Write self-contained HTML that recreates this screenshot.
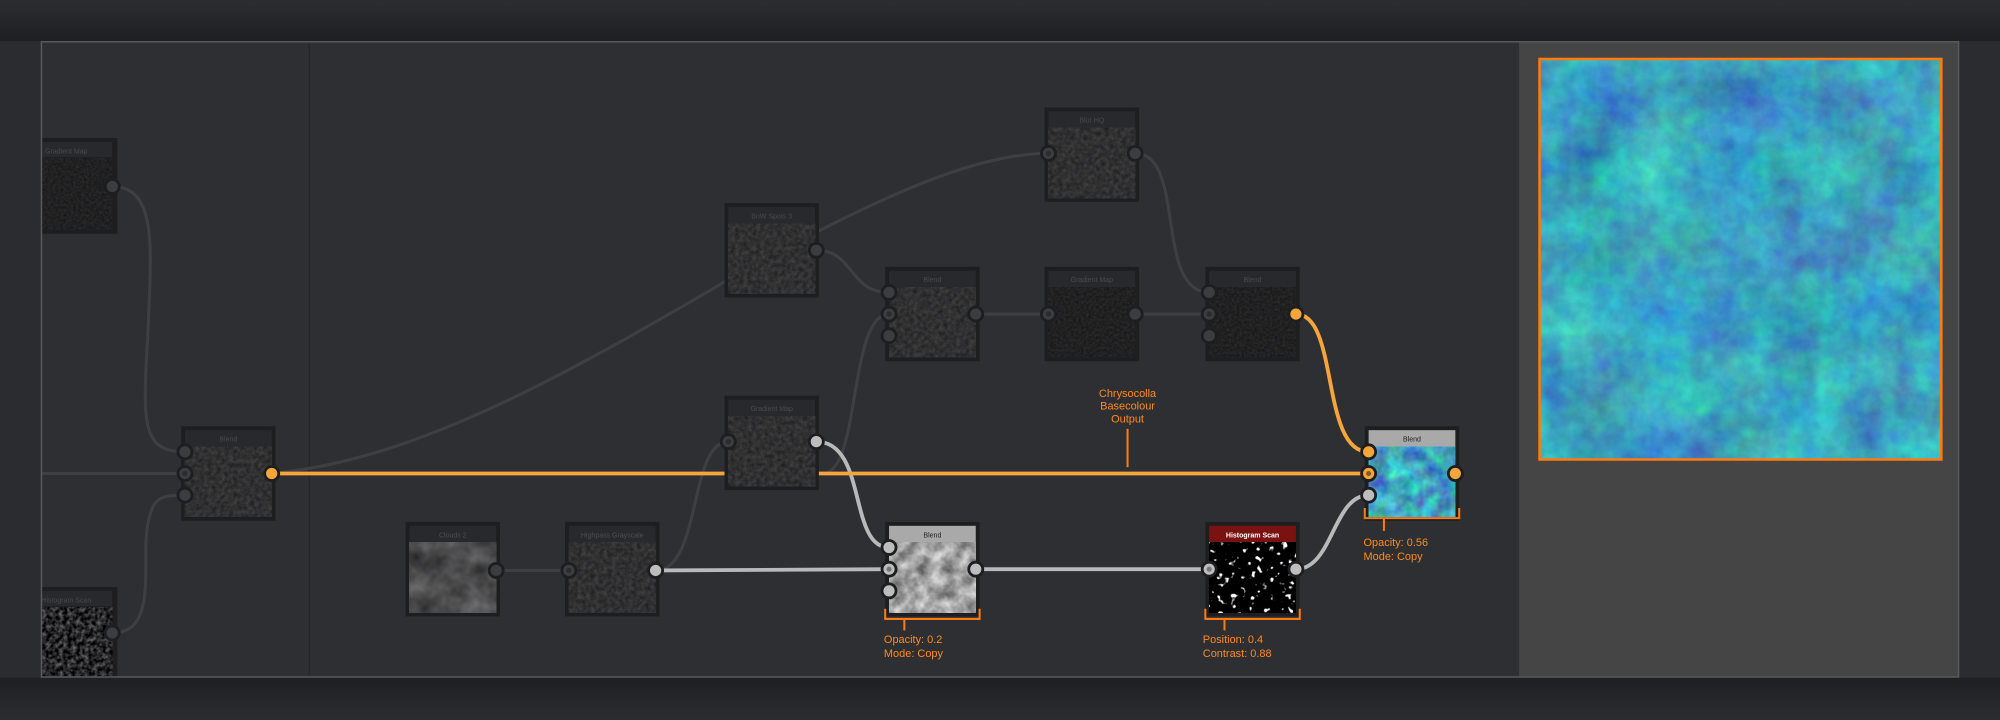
<!DOCTYPE html>
<html><head><meta charset="utf-8"><style>
html,body{margin:0;padding:0;background:#2b2c30;}
svg{display:block;}
text{font-family:"Liberation Sans",sans-serif;}
</style></head><body>
<svg width="2000" height="720" viewBox="0 0 1568 564" xmlns="http://www.w3.org/2000/svg">
<defs>
<linearGradient id="bgTop" x1="0" y1="0" x2="0" y2="1">
<stop offset="0" stop-color="#2c2d31"/><stop offset="1" stop-color="#1e1f21"/></linearGradient>
<linearGradient id="bgBot" x1="0" y1="0" x2="0" y2="1">
<stop offset="0" stop-color="#1e1f21"/><stop offset="1" stop-color="#2c2d31"/></linearGradient>
<clipPath id="frameClip"><rect x="33" y="33" width="1502" height="497"/></clipPath>
<filter id="dim" x="0" y="0" width="1" height="1" color-interpolation-filters="sRGB"><feTurbulence type="fractalNoise" baseFrequency="0.3" numOctaves="3" seed="2"/>
<feColorMatrix type="matrix" values="0.18 0 0 0 0.1  0.18 0 0 0 0.1  0.18 0 0 0 0.105  0 0 0 0 1"/></filter>
<filter id="dark" x="0" y="0" width="1" height="1" color-interpolation-filters="sRGB"><feTurbulence type="fractalNoise" baseFrequency="0.5" numOctaves="2" seed="5"/>
<feColorMatrix type="matrix" values="0.12 0 0 0 0.07  0.12 0 0 0 0.07  0.12 0 0 0 0.075  0 0 0 0 1"/></filter>
<filter id="light" x="0" y="0" width="1" height="1" color-interpolation-filters="sRGB"><feTurbulence type="fractalNoise" baseFrequency="0.1" numOctaves="3" seed="7"/>
<feColorMatrix type="matrix" values="0.7 0 0 0 0.28  0.7 0 0 0 0.28  0.7 0 0 0 0.28  0 0 0 0 1"/></filter>
<filter id="cloud" x="0" y="0" width="1" height="1" color-interpolation-filters="sRGB"><feTurbulence type="fractalNoise" baseFrequency="0.06" numOctaves="3" seed="11"/>
<feColorMatrix type="matrix" values="0.35 0 0 0 0.12  0.35 0 0 0 0.12  0.35 0 0 0 0.125  0 0 0 0 1"/></filter>
<filter id="hist" x="0" y="0" width="1" height="1" color-interpolation-filters="sRGB"><feTurbulence type="fractalNoise" baseFrequency="0.2" numOctaves="2" seed="9"/>
<feColorMatrix type="matrix" values="9 0 0 0 -5.6  9 0 0 0 -5.6  9 0 0 0 -5.6  0 0 0 0 1"/></filter>
<filter id="hist2" x="0" y="0" width="1" height="1" color-interpolation-filters="sRGB"><feTurbulence type="fractalNoise" baseFrequency="0.3" numOctaves="2" seed="4"/>
<feColorMatrix type="matrix" values="0.8 0 0 0 -0.25  0.8 0 0 0 -0.25  0.8 0 0 0 -0.24  0 0 0 0 1"/></filter>
<filter id="teal" x="0" y="0" width="1" height="1" color-interpolation-filters="sRGB"><feTurbulence type="fractalNoise" baseFrequency="0.018" numOctaves="4" seed="3"/>
<feColorMatrix type="matrix" values="0.25 0 0 0 0.1  0 0.8 0 0 0.25  0 0 0.4 0 0.55  0 0 0 0 1"/></filter>
<filter id="teal2" x="0" y="0" width="1" height="1" color-interpolation-filters="sRGB"><feTurbulence type="fractalNoise" baseFrequency="0.08" numOctaves="3" seed="6"/>
<feColorMatrix type="matrix" values="0.3 0 0 0 0.1  0 0.9 0 0 0.2  0 0 0.5 0 0.5  0 0 0 0 1"/></filter>
</defs>

<rect width="1568" height="564" fill="#2b2c30"/>
<rect x="0" y="0" width="1568" height="32" fill="url(#bgTop)"/>
<rect x="0" y="531" width="1568" height="33" fill="url(#bgBot)"/>
<rect x="32" y="32" width="1504" height="499" fill="#2e2f33"/>
<rect x="1191" y="32" width="345" height="499" fill="#454545"/>
<line x1="242.5" y1="32" x2="242.5" y2="531" stroke="#26272a" stroke-width="1"/>

<!-- preview -->
<rect x="1207" y="46" width="315" height="314" fill="#3aa8c0"/>
<rect x="1207" y="46" width="315" height="314" filter="url(#teal)" opacity="0.9"/>
<rect x="1207" y="46" width="315" height="314" filter="url(#teal2)" opacity="0.3"/>
<rect x="1207" y="46" width="315" height="314" fill="none" stroke="#ff7a10" stroke-width="2"/>

<g clip-path="url(#frameClip)">
<g fill="none" stroke="#3e3f43" stroke-width="2.4">
<path d="M88 146 C125 146,118 200,116 260 C112 330,110 354,145 354"/>
<path d="M33 371 L145 371"/>
<path d="M88 496 C125 496,110 440,116 410 C120 390,125 388,145 388"/>
<path d="M213 371 C330 360,450 290,590 208 C680 160,760 120,822 120"/>
<path d="M640 196 C670 196,665 229,697 229"/>
<path d="M645 371 C675 371,665 246,697 246"/>
<path d="M890 120 C930 120,905 229,948 229"/>
<path d="M765 246 L822 246"/>
<path d="M890 246 L948 246"/>
<path d="M389 447 L446 447"/>
<path d="M514 447 C550 447,540 346,571 346"/>
</g>
<g fill="none" stroke="#b9b9b9" stroke-width="3">
<path d="M514 447 L697 446"/>
<path d="M640 346 C680 346,665 429,697 429"/>
<path d="M765 446 L948 446"/>
<path d="M1016 446 C1045 446,1045 388,1073 388"/>
</g>
<g fill="none" stroke="#f5a53a" stroke-width="3">
<path d="M213 371 L1073 371"/>
<path d="M1016 246 C1050 246,1035 354,1073 354"/>
</g>

<g font-size="5.5" text-anchor="middle">
<rect x="26" y="108" width="66" height="75" fill="#1e1e20"/>
<rect x="26" y="111" width="62" height="12" fill="#28292c"/>
<rect x="26" y="124" width="62" height="56" filter="url(#dark)"/>
<text x="52" y="120" fill="#4a4a4d">Gradient Map</text>
<rect x="26" y="460" width="66" height="75" fill="#1e1e20"/>
<rect x="26" y="463" width="62" height="12" fill="#28292c"/>
<rect x="26" y="476" width="62" height="58" filter="url(#hist2)"/>
<text x="52" y="472" fill="#4a4a4d">Histogram Scan</text>

<rect x="142" y="334" width="74" height="74" fill="#1e1e20"/><rect x="145" y="337" width="68" height="13" fill="#28292c"/><rect x="145" y="350" width="68" height="55" filter="url(#dim)"/><text x="179" y="346" fill="#4a4a4d">Blend</text>
<rect x="568" y="159" width="74" height="74" fill="#1e1e20"/><rect x="571" y="162" width="68" height="13" fill="#28292c"/><rect x="571" y="175" width="68" height="55" filter="url(#dim)"/><text x="605" y="171" fill="#4a4a4d">BnW Spots 3</text>
<rect x="819" y="84" width="74" height="74" fill="#1e1e20"/><rect x="822" y="87" width="68" height="13" fill="#28292c"/><rect x="822" y="100" width="68" height="55" filter="url(#dim)"/><text x="856" y="96" fill="#4a4a4d">Blur HQ</text>
<rect x="694" y="209" width="74" height="74" fill="#1e1e20"/><rect x="697" y="212" width="68" height="13" fill="#28292c"/><rect x="697" y="225" width="68" height="55" filter="url(#dim)"/><text x="731" y="221" fill="#4a4a4d">Blend</text>
<rect x="819" y="209" width="74" height="74" fill="#1e1e20"/><rect x="822" y="212" width="68" height="13" fill="#28292c"/><rect x="822" y="225" width="68" height="55" filter="url(#dark)"/><text x="856" y="221" fill="#4a4a4d">Gradient Map</text>
<rect x="945" y="209" width="74" height="74" fill="#1e1e20"/><rect x="948" y="212" width="68" height="13" fill="#28292c"/><rect x="948" y="225" width="68" height="55" filter="url(#dark)"/><text x="982" y="221" fill="#4a4a4d">Blend</text>
<rect x="568" y="310" width="74" height="74" fill="#1e1e20"/><rect x="571" y="313" width="68" height="13" fill="#28292c"/><rect x="571" y="326" width="68" height="55" filter="url(#dim)"/><text x="605" y="322" fill="#4a4a4d">Gradient Map</text>
<rect x="318" y="409" width="74" height="74" fill="#1e1e20"/><rect x="321" y="412" width="68" height="13" fill="#28292c"/><rect x="321" y="425" width="68" height="55" filter="url(#cloud)"/><text x="355" y="421" fill="#4f4f52">Clouds 2</text>
<rect x="443" y="409" width="74" height="74" fill="#1e1e20"/><rect x="446" y="412" width="68" height="13" fill="#28292c"/><rect x="446" y="425" width="68" height="55" filter="url(#dim)"/><text x="480" y="421" fill="#4f4f52">Highpass Grayscale</text>

<rect x="694" y="409" width="74" height="74" fill="#1e1e20"/><rect x="697" y="412" width="68" height="13" fill="#a9a9a9"/><rect x="697" y="425" width="68" height="55" filter="url(#light)"/><text x="731" y="421" fill="#222">Blend</text>
<rect x="945" y="409" width="74" height="74" fill="#1e1e20"/><rect x="948" y="412" width="68" height="13" fill="#7a1212"/><rect x="948" y="425" width="68" height="55" filter="url(#hist)"/><text x="982" y="421" fill="#fff" font-weight="bold">Histogram Scan</text>
<rect x="1070" y="334" width="74" height="74" fill="#1e1e20"/><rect x="1073" y="337" width="68" height="13" fill="#a9a9a9"/><rect x="1073" y="350" width="68" height="55" filter="url(#teal2)"/><text x="1107" y="346" fill="#222">Blend</text>
</g>

<g stroke="#1e1e20" stroke-width="2.2">
<g fill="#3c3d41">
<circle cx="88" cy="146" r="5.5"/><circle cx="88" cy="496" r="5.5"/>
<circle cx="145" cy="354" r="5.5"/><circle cx="145" cy="371" r="5.5"/><circle cx="145" cy="388" r="5.5"/>
<circle cx="640" cy="196" r="5.5"/>
<circle cx="822" cy="120" r="5.5"/><circle cx="890" cy="120" r="5.5"/>
<circle cx="697" cy="229" r="5.5"/><circle cx="697" cy="246" r="5.5"/><circle cx="697" cy="263" r="5.5"/><circle cx="765" cy="246" r="5.5"/>
<circle cx="822" cy="246" r="5.5"/><circle cx="890" cy="246" r="5.5"/>
<circle cx="948" cy="229" r="5.5"/><circle cx="948" cy="246" r="5.5"/><circle cx="948" cy="263" r="5.5"/>
<circle cx="571" cy="346" r="5.5"/>
<circle cx="389" cy="447" r="5.5"/><circle cx="446" cy="447" r="5.5"/>
</g>
<g fill="#bdbdbd">
<circle cx="514" cy="447" r="5.5"/><circle cx="640" cy="346" r="5.5"/>
<circle cx="697" cy="429" r="5.5"/><circle cx="697" cy="446" r="5.5"/><circle cx="697" cy="463" r="5.5"/><circle cx="765" cy="446" r="5.5"/>
<circle cx="948" cy="446" r="5.5"/><circle cx="1016" cy="446" r="5.5"/>
<circle cx="1073" cy="388" r="5.5"/>
</g>
<g fill="#f5a53a">
<circle cx="213" cy="371" r="5.5"/><circle cx="1016" cy="246" r="5.5"/>
<circle cx="1073" cy="354" r="5.5"/><circle cx="1073" cy="371" r="5.5"/><circle cx="1141" cy="371" r="5.5"/>
</g>
</g>
<g stroke="none">
<circle cx="145" cy="371" r="2" fill="#2a2b2e"/><circle cx="697" cy="246" r="2" fill="#2a2b2e"/><circle cx="948" cy="246" r="2" fill="#2a2b2e"/>
<circle cx="822" cy="120" r="2" fill="#2a2b2e"/><circle cx="822" cy="246" r="2" fill="#2a2b2e"/><circle cx="571" cy="346" r="2" fill="#2a2b2e"/><circle cx="446" cy="447" r="2" fill="#2a2b2e"/>
<circle cx="697" cy="446" r="2" fill="#777"/><circle cx="948" cy="446" r="2" fill="#777"/>
<circle cx="1073" cy="371" r="2" fill="#8a5a1a"/>
</g>
</g>
<rect x="32.5" y="32.5" width="1503" height="498" fill="none" stroke="#58595c" stroke-width="1.2"/>

<g stroke="#ff7a10" stroke-width="1.6" fill="none">
<path d="M694 477 V485 H768 V477"/><path d="M709 485 V494"/>
<path d="M945 477 V485 H1019 V477"/><path d="M960 485 V494"/>
<path d="M1070 398 V406 H1144 V398"/><path d="M1085 406 V416"/>
<path d="M884 336 V366"/>
</g>
<g font-size="8.6" fill="#ff8a1e">
<text x="693" y="504">Opacity: 0.2</text><text x="693" y="515">Mode: Copy</text>
<text x="943" y="504">Position: 0.4</text><text x="943" y="515">Contrast: 0.88</text>
<text x="1069" y="428">Opacity: 0.56</text><text x="1069" y="439">Mode: Copy</text>
<g text-anchor="middle"><text x="884" y="311">Chrysocolla</text><text x="884" y="321">Basecolour</text><text x="884" y="331">Output</text></g>
</g>
</svg>
</body></html>
